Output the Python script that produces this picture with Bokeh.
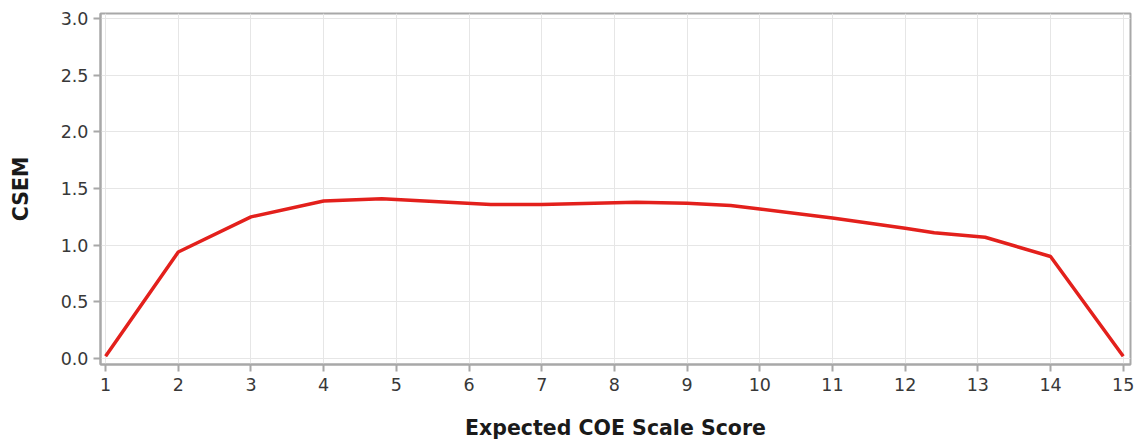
from bokeh.plotting import figure
from bokeh.embed import file_html
from bokeh.resources import INLINE
from bokeh.models import FixedTicker, Range1d, CustomJSTickFormatter

# Data
score = [1, 2, 3, 4, 4.8, 6.3, 7, 8.3, 9, 9.6, 10, 11, 12, 12.4, 13.1, 14, 15]
csem = [0.02, 0.94, 1.25, 1.39, 1.41, 1.36, 1.36, 1.38, 1.37, 1.35, 1.32, 1.24, 1.15, 1.11, 1.07, 0.90, 0.02]
x_ticks = list(range(1, 16))
y_ticks = [0.0, 0.5, 1.0, 1.5, 2.0, 2.5, 3.0]

p = figure(width=1141, height=447, output_backend="svg", toolbar_location=None,
           x_range=Range1d(0.93, 15.1), y_range=Range1d(-0.053, 3.045),
           min_border_left=100, min_border_top=13, min_border_right=11, min_border_bottom=83,
           background_fill_color="white", border_fill_color="white")

p.line(score, csem, line_color="#e3201c", line_width=3.5)

p.outline_line_color = "#a8a8a8"
p.outline_line_width = 2

for ax in (p.xaxis, p.yaxis):
    ax.axis_line_color = "#a8a8a8"
    ax.axis_line_width = 2
    ax.major_tick_line_color = "#a8a8a8"
    ax.major_tick_line_width = 2
    ax.major_tick_out = 7
    ax.major_tick_in = 0
    ax.minor_tick_line_color = None
    ax.major_label_text_font = "DejaVu Sans"
    ax.major_label_text_font_size = "17.5px"
    ax.major_label_text_color = "#383838"
    ax.axis_label_text_font = "DejaVu Sans"
    ax.axis_label_text_font_style = "bold"
    ax.axis_label_text_font_size = "20.5px"
    ax.axis_label_text_color = "#1a1a1a"

p.xaxis.ticker = FixedTicker(ticks=x_ticks)
p.yaxis.ticker = FixedTicker(ticks=y_ticks)
p.yaxis.formatter = CustomJSTickFormatter(code="return tick.toFixed(1);")
p.xaxis.axis_label = "Expected COE Scale Score"
p.yaxis.axis_label = "CSEM"
p.xaxis.major_label_standoff = 6
p.yaxis.major_label_standoff = 5
p.xaxis.axis_label_standoff = 22
p.yaxis.axis_label_standoff = 25

p.xgrid.grid_line_color = "#e6e6e6"
p.ygrid.grid_line_color = "#e6e6e6"
p.xgrid.ticker = FixedTicker(ticks=x_ticks)
p.ygrid.ticker = FixedTicker(ticks=y_ticks)

open("out.html", "w").write(file_html(p, INLINE))
